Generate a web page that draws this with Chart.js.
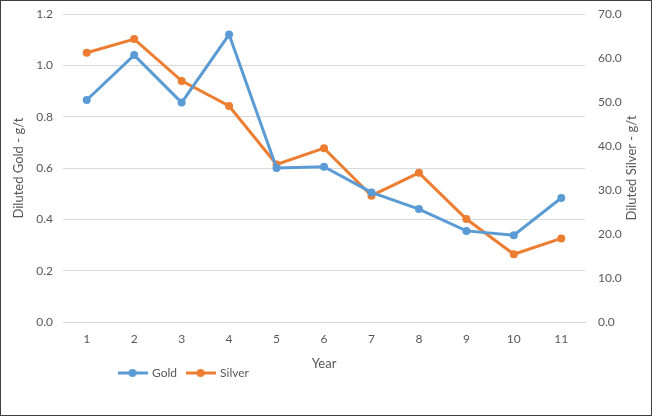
<!DOCTYPE html>
<html>
<head>
<meta charset="utf-8">
<script src="https://cdn.jsdelivr.net/npm/chart.js@4/dist/chart.umd.min.js"></script>
<style>
  html, body { margin: 0; padding: 0; background: #fff; }
  #wrap { width: 652px; height: 416px; box-sizing: border-box; border: 1px solid #404040; position: relative; }
  #chart { display: block; }
</style>
</head>
<body>
<div id="wrap"><canvas id="chart" width="650" height="414"></canvas></div>
<script>
// data
const years = ['1', '2', '3', '4', '5', '6', '7', '8', '9', '10', '11'];
const gold = [0.865, 1.04, 0.855, 1.12, 0.60, 0.605, 0.505, 0.44, 0.355, 0.338, 0.483];
const silver = [61.2, 64.3, 54.8, 49.1, 35.8, 39.5, 28.7, 33.9, 23.4, 15.4, 19.0];

const goldColor = '#5B9BD5';
const silverColor = '#ED7D31';
const textColor = '#595959';
const gridColor = '#D9D9D9';
const fontFamily = 'Lato, "Open Sans", sans-serif';
const silverTitle = 'Diluted Silver - g/t';

// little line-with-dot icon for the legend, like Excel draws it
function legendIcon(color) {
    let c = document.createElement('canvas');
    c.width = 30; c.height = 10;
    let g = c.getContext('2d');
    g.strokeStyle = color;
    g.lineWidth = 3;
    g.beginPath(); g.moveTo(0, 5); g.lineTo(30, 5); g.stroke();
    g.fillStyle = color;
    g.beginPath(); g.arc(15, 5, 4, 0, Math.PI * 2); g.fill();
    return c;
}
const icons = [legendIcon(goldColor), legendIcon(silverColor)];

// Excel leaves the legend left of centre and close under the axis title
const legendShift = {
    id: 'legendShift',
    afterLayout(chart) {
        chart.legend.left = 108;
        chart.legend.top = 356;
    }
};

// right axis title reads bottom-to-top in the original, Chart.js turns it the other way
const rightTitle = {
    id: 'rightTitle',
    afterDraw(chart) {
        let ctx = chart.ctx;
        let a = chart.chartArea;
        ctx.save();
        ctx.translate(631, (a.top + a.bottom) / 2);
        ctx.rotate(-Math.PI / 2);
        ctx.fillStyle = textColor;
        ctx.font = '13px ' + fontFamily;
        ctx.textAlign = 'center';
        ctx.textBaseline = 'middle';
        ctx.fillText(silverTitle, 0, 0);
        ctx.restore();
    }
};

// fixed axis widths so the plot sits where Excel put it
function fitAxis(width) {
    return function (scale) {
        scale.paddingTop = 0;
        scale.width = width;
    };
}

new Chart(document.getElementById('chart'), {
    type: 'line',
    data: {
        labels: years,
        datasets: [{
            label: 'Gold',
            data: gold,
            yAxisID: 'y',
            borderColor: goldColor,
            backgroundColor: goldColor,
            borderWidth: 3,
            pointRadius: 4,
            pointBorderWidth: 0,
            tension: 0
        }, {
            label: 'Silver',
            data: silver,
            yAxisID: 'y1',
            borderColor: silverColor,
            backgroundColor: silverColor,
            borderWidth: 3,
            pointRadius: 4,
            pointBorderWidth: 0,
            tension: 0
        }]
    },
    options: {
        responsive: false,
        animation: false,
        layout: { padding: { left: 10, right: 18, top: 13, bottom: 11 } },
        plugins: {
            tooltip: { enabled: false },
            legend: {
                position: 'bottom',
                align: 'start',
                labels: {
                    usePointStyle: true,
                    pointStyleWidth: 27,
                    padding: 10,
                    color: textColor,
                    font: { family: fontFamily, size: 12 },
                    generateLabels(chart) {
                        let items = Chart.defaults.plugins.legend.labels.generateLabels(chart);
                        items.forEach((it, i) => { it.pointStyle = icons[i]; });
                        return items;
                    }
                }
            }
        },
        scales: {
            x: {
                offset: true,
                grid: { display: false, drawTicks: false },
                border: { color: gridColor },
                ticks: { color: textColor, font: { family: fontFamily, size: 12 }, padding: 10 },
                title: { display: true, text: 'Year', color: textColor, font: { family: fontFamily, size: 13 }, padding: { top: 0, bottom: 0 } }
            },
            y: {
                position: 'left',
                min: 0,
                max: 1.2,
                afterFit: fitAxis(52),
                grid: { color: gridColor, drawTicks: false },
                border: { display: false },
                ticks: {
                    stepSize: 0.2,
                    padding: 10,
                    color: textColor,
                    font: { family: fontFamily, size: 12 },
                    callback: v => v.toFixed(1)
                },
                title: { display: true, text: 'Diluted Gold - g/t', color: textColor, font: { family: fontFamily, size: 13 }, padding: { top: 0, bottom: 8 } }
            },
            y1: {
                position: 'right',
                min: 0,
                max: 70,
                afterFit: fitAxis(48),
                grid: { display: false, drawTicks: false },
                border: { display: false },
                ticks: {
                    stepSize: 10,
                    padding: 13,
                    color: textColor,
                    font: { family: fontFamily, size: 12 },
                    callback: v => v.toFixed(1)
                }
            }
        }
    },
    plugins: [legendShift, rightTitle]
});
</script>
</body>
</html>
